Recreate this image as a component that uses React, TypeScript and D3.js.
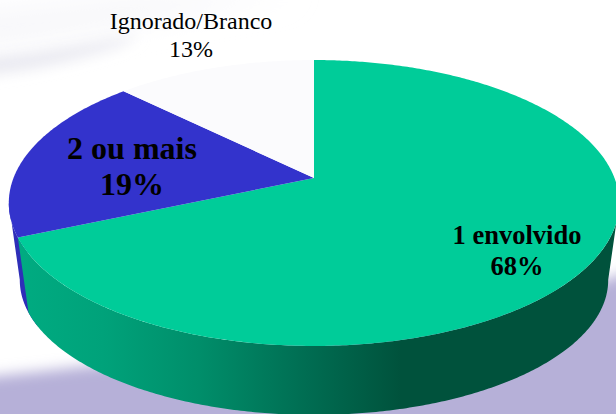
import React from "react";
import * as d3 from "d3";

const categories = ["1 envolvido", "2 ou mais", "Ignorado/Branco"];
const values = [68.45, 18.95, 12.6];
const sliceColors = ["#00cc99", "#3333cc", "#fbfbfd"];
const sideColors = ["url(#sideGreen)", "#2e2eb8"];

const W = 616;
const H = 414;
const apex = { x: 314, y: 178 };
const k = 0.1748;
const A = 300.5;
const B = 138.6;
const extremeRight = (100 * Math.PI) / 180;
const extremeLeft = (260 * Math.PI) / 180;

function top(theta: number): [number, number] {
  const X = Math.sin(theta);
  const Y = Math.cos(theta);
  const w = 1 + k * Y;
  return [apex.x + (A * X) / w, apex.y - (B * Y) / w];
}
function bottom(theta: number): [number, number] {
  const [x, y] = top(theta);
  return [314 + (x - 314) * 0.964, 280 + (y - 203) * 0.944];
}
function samples(a0: number, a1: number): number[] {
  const n = Math.max(2, Math.ceil(Math.abs(a1 - a0) / 0.01));
  return d3.range(n + 1).map((i) => a0 + ((a1 - a0) * i) / n);
}

const arcs = d3.pie<number>().sort(null).startAngle(0).endAngle(2 * Math.PI)(values);
const line = d3.line();
const slicePath = (a0: number, a1: number) =>
  line([[apex.x, apex.y], ...samples(a0, a1).map(top)]) + "Z";
const sidePath = (a0: number, a1: number) => {
  const s = samples(a0, a1);
  return line([...s.map(top), ...s.slice().reverse().map(bottom)]) + "Z";
};

const labels = [
  { size: 26.5, bold: true, x: 517, y1: 244, y2: 275 },
  { size: 32, bold: true, x: 132, y1: 159, y2: 195 },
  { size: 24, bold: false, x: 191, y1: 29, y2: 57 },
];

export default function App() {
  const greenEnd = arcs[0].endAngle;
  return (
    <svg
      width={W}
      height={H}
      viewBox={`0 0 ${W} ${H}`}
      style={{ position: "absolute", left: 0, top: 0, display: "block", background: "#fff" }}
    >
      <defs>
        <filter id="soft" x="-20%" y="-50%" width="140%" height="200%">
          <feGaussianBlur stdDeviation="7" />
        </filter>
        <filter id="softer" x="-20%" y="-50%" width="140%" height="200%">
          <feGaussianBlur stdDeviation="14" />
        </filter>
        <linearGradient id="sideGreen" gradientUnits="userSpaceOnUse" x1="20" x2="616" y1="0" y2="0">
          <stop offset="0" stopColor="#00ab81" />
          <stop offset="0.14" stopColor="#00a27a" />
          <stop offset="0.3" stopColor="#008e6a" />
          <stop offset="0.48" stopColor="#006d52" />
          <stop offset="0.64" stopColor="#00523c" />
          <stop offset="1" stopColor="#00523c" />
        </linearGradient>
      </defs>
      <rect width={W} height={H} fill="#ffffff" />
      <path
        d="M-40,50 C60,40 130,25 230,6 L300,-6 L150,-6 L-40,15 Z"
        fill="#f7f7fa"
        filter="url(#softer)"
      />
      <path
        d="M-40,60 C30,56 80,45 140,35 L120,46 C70,62 20,74 -40,76 Z"
        fill="#e8e8f0"
        filter="url(#soft)"
      />
      <path
        d="M-40,380 C60,370 200,352 350,340 C470,325 560,295 660,262 L660,450 L-40,450 Z"
        fill="#b6b0d8"
        filter="url(#soft)"
      />
      <path d={sidePath(greenEnd - 0.1, extremeLeft)} fill={sideColors[1]} />
      <path d={sidePath(extremeRight, greenEnd)} fill={sideColors[0]} />
      {arcs.map((a, i) => (
        <path key={categories[i]} d={slicePath(a.startAngle, a.endAngle)} fill={sliceColors[i]} />
      ))}
      {labels.map((l, i) => (
        <text
          key={categories[i]}
          fontFamily="'Liberation Serif', 'Times New Roman', serif"
          fontSize={l.size}
          fontWeight={l.bold ? 700 : 400}
          textAnchor="middle"
          fill="#000"
        >
          <tspan x={l.x} y={l.y1}>{categories[i]}</tspan>
          <tspan x={l.x} y={l.y2}>{`${Math.round(values[i])}%`}</tspan>
        </text>
      ))}
    </svg>
  );
}
